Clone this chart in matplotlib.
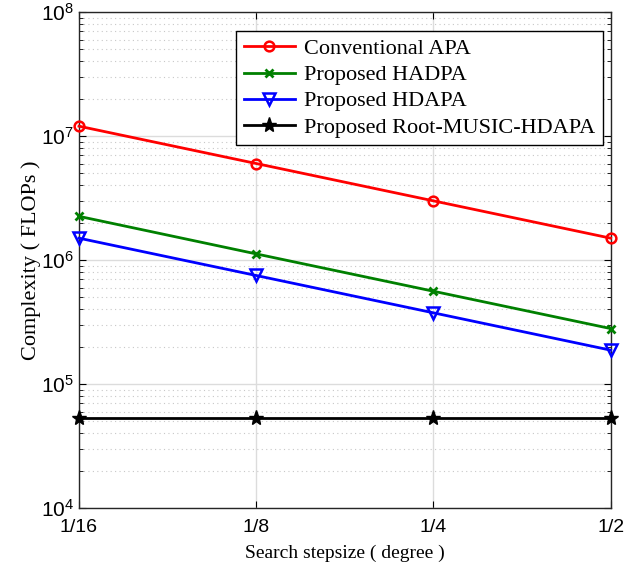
import matplotlib
matplotlib.use("Agg")
import matplotlib.pyplot as plt
from matplotlib.ticker import LogLocator, NullFormatter

plt.rcParams["mathtext.fontset"] = "custom"
plt.rcParams["mathtext.rm"] = "Liberation Sans"
plt.rcParams["mathtext.it"] = "Liberation Sans"
plt.rcParams["mathtext.bf"] = "Liberation Sans"
plt.rcParams["font.family"] = "Liberation Sans"

steps = ["1/16", "1/8", "1/4", "1/2"]
apa = [1.2e7, 6.0e6, 3.0e6, 1.5e6]
hadpa = [2.25e6, 1.12e6, 5.6e5, 2.8e5]
hdapa = [1.5e6, 7.5e5, 3.75e5, 1.875e5]
root_music = [5.3e4, 5.3e4, 5.3e4, 5.3e4]

fig = plt.figure(figsize=(6.34, 5.72), dpi=100)
ax = fig.add_axes([0.1246, 0.1119, 0.8385, 0.8671])
x = list(range(len(steps)))

ax.plot(x, apa, color="red", lw=2, marker="o", ms=7, mfc="none", mew=1.8, label="Conventional APA", clip_on=False, zorder=3)
ax.plot(x, hadpa, color="green", lw=2, marker="x", ms=6, mew=2, label="Proposed HADPA", clip_on=False, zorder=3)
ax.plot(x, hdapa, color="blue", lw=2, marker="v", ms=9, mfc="none", mew=1.8, label="Proposed HDAPA", clip_on=False, zorder=3)
ax.plot(x, root_music, color="black", lw=2, marker="*", ms=11, label="Proposed Root-MUSIC-HDAPA", clip_on=False, zorder=3)

ax.set_yscale("log")
ax.set_ylim(1e4, 1e8)
ax.set_xlim(0, 3)
ax.set_xticks(x)
ax.set_xticklabels(steps, fontsize=14)
ax.yaxis.set_major_locator(LogLocator(base=10, numticks=10))
ax.yaxis.set_minor_locator(LogLocator(base=10, subs=range(2, 10), numticks=100))
ax.yaxis.set_minor_formatter(NullFormatter())
ax.tick_params(axis="y", labelsize=15)
ax.tick_params(axis="x", pad=8)

ax.grid(True, which="major", color="#dcdcdc", lw=1, ls="-")
ax.grid(True, which="minor", axis="y", color="#c8c8c8", lw=0.8, ls=(0, (1, 3)))
ax.set_axisbelow(True)
ax.tick_params(which="both", direction="in", top=True, right=True)
ax.tick_params(which="major", length=5)
ax.tick_params(which="minor", length=3)
for s in ax.spines.values():
    s.set_color("#262626")
    s.set_linewidth(1.0)

ax.set_xlabel("Search stepsize ( degree )", fontfamily="Liberation Serif", fontsize=14, labelpad=6)
ax.set_ylabel("Complexity ( FLOPs )", fontfamily="Liberation Serif", fontsize=16, labelpad=0)

leg = ax.legend(loc="upper right", bbox_to_anchor=(0.985, 0.962), borderaxespad=0,
                prop={"family": "Liberation Serif", "size": 16},
                fancybox=False, edgecolor="black", framealpha=1, handlelength=2.3,
                borderpad=0.35, labelspacing=0.25, handletextpad=0.4)
leg.get_frame().set_linewidth(1.0)

fig.savefig("out.png", dpi=100)
